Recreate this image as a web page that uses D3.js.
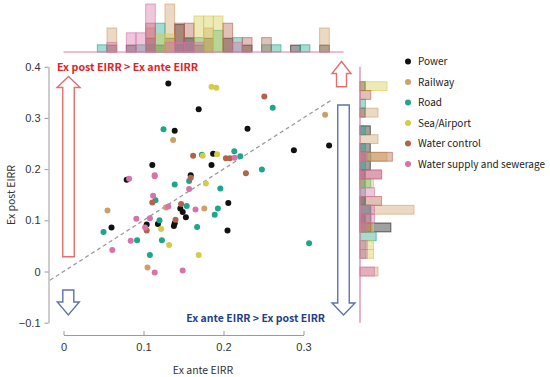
<!DOCTYPE html>
<html>
<head>
<meta charset="utf-8">
<title>EIRR scatter</title>
<script src="https://cdn.jsdelivr.net/npm/d3@7"></script>
<style>
  html, body { margin: 0; background: #fff; }
  text { font-family: "Noto Sans CJK JP", "Noto Sans", sans-serif; }
  .axis path, .axis line { stroke: #9a9a9a; }
  .axis text { fill: #333; font-size: 11px; font-family: "Liberation Sans", Arial, sans-serif; }
</style>
</head>
<body>
<svg width="550" height="377"></svg>
<script>
// categories and colours
var categories = ["Power", "Railway", "Road", "Sea/Airport", "Water control", "Water supply and sewerage"];
var colors = ["#111111", "#cf9f69", "#1fa58b", "#d4cb4a", "#b4624a", "#d772aa"];

// [ex ante EIRR, ex post EIRR]
var power = [[0.131,0.367],[0.169,0.317],[0.139,0.275],[0.230,0.279],[0.288,0.237],[0.332,0.246],
  [0.187,0.230],[0.111,0.208],[0.185,0.208],[0.159,0.188],[0.079,0.179],[0.206,0.134],[0.146,0.123],
  [0.149,0.116],[0.153,0.106],[0.060,0.086],[0.104,0.092],[0.118,0.093],[0.139,0.094],[0.138,0.089],[0.205,0.080]];
var railway = [[0.327,0.306],[0.137,0.257],[0.055,0.119],[0.128,0.125],[0.176,0.123],[0.105,0.008]];
var road = [[0.2615,0.320],[0.125,0.278],[0.173,0.228],[0.2135,0.235],[0.221,0.225],[0.248,0.199],
  [0.157,0.177],[0.139,0.170],[0.196,0.162],[0.115,0.139],[0.154,0.128],[0.193,0.123],[0.189,0.111],
  [0.120,0.100],[0.167,0.087],[0.050,0.077],[0.092,0.061],[0.123,0.061],[0.307,0.055],[0.108,0.032]];
var seaAirport = [[0.185,0.361],[0.191,0.359],[0.174,0.226],[0.192,0.229],[0.178,0.172],[0.122,0.083],
  [0.132,0.052],[0.169,0.032]];
var waterControl = [[0.251,0.342],[0.162,0.226],[0.203,0.221],[0.208,0.221],[0.228,0.192],[0.159,0.183],
  [0.111,0.135],[0.147,0.132],[0.140,0.101],[0.104,0.080]];
var waterSupply = [[0.214,0.222],[0.114,0.188],[0.114,0.186],[0.082,0.181],[0.157,0.161],[0.112,0.148],
  [0.131,0.127],[0.165,0.121],[0.091,0.103],[0.108,0.104],[0.102,0.086],[0.084,0.060],[0.061,0.042],
  [0.114,-0.002],[0.149,0.002]];
var series = [power, railway, road, seaAirport, waterControl, waterSupply];

// axis ticks and histogram bins
var xTicks = [0, 0.1, 0.2, 0.3];
var yTicks = [-0.1, 0, 0.1, 0.2, 0.3, 0.4];
var xBinStart = 0.0423, xBinWidth = 0.01208, xBinCount = 25;
var yBinStart = -0.0088, yBinWidth = 0.01725, yBinCount = 22;
var diagLine = [-0.017, 0.337];

var svg = d3.select("svg");

var x = d3.scaleLinear().domain([0, 0.3]).range([63.5, 303.5]);
var y = d3.scaleLinear().domain([-0.1, 0.4]).range([322.7, 66.7]);
var topH = d3.scaleLinear().domain([0, 1]).range([52, 52 - 144]);
var sideW = d3.scaleLinear().domain([0, 1]).range([360, 360 + 108]);

// axes
svg.append("g")
    .attr("class", "axis")
    .attr("transform", "translate(48.5,0)")
    .call(d3.axisLeft(y).tickValues(yTicks).tickSize(4).tickSizeOuter(0).tickPadding(4)
      .tickFormat(function(d) { return d === 0 ? "0" : d3.format(".1f")(d); }));

svg.append("g")
    .attr("class", "axis")
    .attr("transform", "translate(0,335)")
    .call(d3.axisBottom(x).tickValues(xTicks).tickSizeInner(-4).tickSizeOuter(0).tickPadding(8)
      .tickFormat(function(d) { return d === 0 ? "0" : d3.format(".1f")(d); }));

svg.append("text")
    .attr("x", 203).attr("y", 374)
    .attr("text-anchor", "middle")
    .style("font-size", "10.5px").style("fill", "#333")
    .text("Ex ante EIRR");

svg.append("text")
    .attr("transform", "translate(15,195) rotate(-90)")
    .attr("text-anchor", "middle")
    .style("font-size", "10.5px").style("fill", "#333")
    .text("Ex post EIRR");

// arrows
function arrow(cx, yTail, yTip, shaftW, headW, headH) {
  var dir = yTip < yTail ? 1 : -1;
  var yb = yTip + dir * headH;
  return "M" + (cx - shaftW / 2) + "," + yTail +
    "L" + (cx - shaftW / 2) + "," + yb +
    "L" + (cx - headW / 2) + "," + yb +
    "L" + cx + "," + yTip +
    "L" + (cx + headW / 2) + "," + yb +
    "L" + (cx + shaftW / 2) + "," + yb +
    "L" + (cx + shaftW / 2) + "," + yTail + "Z";
}
var arrows = [
  {d: arrow(68.5, 256.7, 76.5, 11.5, 23, 11), c: "#e0706e"},
  {d: arrow(341.5, 86.7, 61.5, 10, 19, 12), c: "#e0706e"},
  {d: arrow(68.3, 290, 315, 11, 22, 13), c: "#5d74a8"},
  {d: arrow(343.5, 105, 315, 11.5, 23, 12), c: "#5d74a8"}
];
svg.selectAll(".arrow").data(arrows).enter().append("path")
    .attr("class", "arrow")
    .attr("d", function(d) { return d.d; })
    .attr("fill", "#fff")
    .attr("stroke", function(d) { return d.c; })
    .attr("stroke-width", 1.4);

svg.append("text")
    .attr("x", 57).attr("y", 71)
    .style("font-size", "10.7px").style("font-weight", "bold").style("fill", "#d9262b")
    .text("Ex post EIRR > Ex ante EIRR");

svg.append("text")
    .attr("x", 325).attr("y", 321.5)
    .attr("text-anchor", "end")
    .style("font-size", "10.5px").style("font-weight", "bold").style("fill", "#243f86")
    .text("Ex ante EIRR > Ex post EIRR");

// y = x reference line
svg.append("line")
    .attr("x1", x(diagLine[0])).attr("y1", y(diagLine[0]))
    .attr("x2", x(diagLine[1])).attr("y2", y(diagLine[1]))
    .attr("stroke", "#9c9c9c").attr("stroke-width", 1.3)
    .attr("stroke-dasharray", "4,3");

// marginal histograms (each category normalised to its own count)
var xThr = d3.range(xBinCount + 1).map(function(i) { return xBinStart + i * xBinWidth; });
var yThr = d3.range(yBinCount + 1).map(function(i) { return yBinStart + i * yBinWidth; });
var binX = d3.bin().domain([xThr[0], xThr[xBinCount]]).thresholds(xThr.slice(1, -1));
var binY = d3.bin().domain([yThr[0], yThr[yBinCount]]).thresholds(yThr.slice(1, -1));

series.forEach(function(pts, i) {
  var n = pts.length;
  var bx = binX(pts.map(function(p) { return p[0]; })).filter(function(b) { return b.length; });
  var by = binY(pts.map(function(p) { return p[1]; })).filter(function(b) { return b.length; });

  svg.append("g").selectAll("rect").data(bx).enter().append("rect")
      .attr("x", function(b) { return x(b.x0); })
      .attr("width", function(b) { return x(b.x1) - x(b.x0); })
      .attr("y", function(b) { return topH(b.length / n); })
      .attr("height", function(b) { return topH(0) - topH(b.length / n); })
      .attr("fill", colors[i]).attr("fill-opacity", 0.4)
      .attr("stroke", colors[i]).attr("stroke-opacity", 0.6).attr("stroke-width", 1);

  svg.append("g").selectAll("rect").data(by).enter().append("rect")
      .attr("x", sideW(0))
      .attr("width", function(b) { return sideW(b.length / n) - sideW(0); })
      .attr("y", function(b) { return y(b.x1); })
      .attr("height", function(b) { return y(b.x0) - y(b.x1); })
      .attr("fill", colors[i]).attr("fill-opacity", 0.4)
      .attr("stroke", colors[i]).attr("stroke-opacity", 0.6).attr("stroke-width", 1);
});

svg.append("line")
    .attr("x1", x(0)).attr("x2", x(0.35)).attr("y1", 52).attr("y2", 52)
    .attr("stroke", "#d97fae").attr("stroke-width", 1.2);
svg.append("line")
    .attr("x1", 360).attr("x2", 360).attr("y1", y(0.4)).attr("y2", y(-0.1))
    .attr("stroke", "#d97fae").attr("stroke-width", 1.2);

// scatter points
series.forEach(function(pts, i) {
  svg.append("g").selectAll("circle").data(pts).enter().append("circle")
      .attr("cx", function(p) { return x(p[0]); })
      .attr("cy", function(p) { return y(p[1]); })
      .attr("r", 3)
      .attr("fill", colors[i]);
});

// legend
var legend = svg.append("g").selectAll("g").data(categories).enter().append("g")
    .attr("transform", function(d, i) { return "translate(408," + (61.5 + i * 20.5) + ")"; });
legend.append("circle").attr("r", 3).attr("fill", function(d, i) { return colors[i]; });
legend.append("text")
    .attr("x", 10).attr("dy", "0.35em")
    .style("font-size", "10px").style("fill", "#222")
    .text(function(d) { return d; });
</script>
</body>
</html>
